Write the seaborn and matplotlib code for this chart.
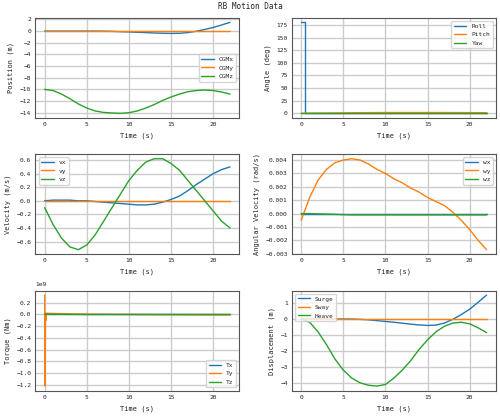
import numpy as np
import pandas as pd
import matplotlib
matplotlib.use("Agg")
import matplotlib.pyplot as plt
import seaborn as sns

sns.set_theme(style="whitegrid", palette="tab10")
plt.rcParams['font.family'] = ['DejaVu Sans Mono']
plt.rcParams.update({'font.size': 5, 'axes.labelsize': 5, 'xtick.labelsize': 4.5, 'ytick.labelsize': 4.5,
                     'legend.fontsize': 4.5, 'axes.edgecolor': '#555555', 'grid.color': '#cccccc',
                     'axes.linewidth': 0.8})

t = list(range(23))
cgx = [0, 0, 0, 0, 0, 0, 0, -0.02, -0.05, -0.1, -0.15, -0.2, -0.26, -0.32, -0.37, -0.4, -0.38, -0.25, -0.02, 0.28, 0.62, 1.05, 1.5]
cgy = [0.0] * 23
cgz = [-10, -10.2, -10.8, -11.6, -12.5, -13.2, -13.7, -13.95, -14.05, -14.1, -14.0, -13.7, -13.2, -12.6, -11.9, -11.3, -10.8, -10.4, -10.2, -10.1, -10.2, -10.45, -10.8]
heave = [0, -0.2, -0.8, -1.6, -2.5, -3.2, -3.7, -4.0, -4.15, -4.2, -4.1, -3.7, -3.2, -2.6, -1.9, -1.3, -0.8, -0.45, -0.25, -0.2, -0.3, -0.55, -0.85]
roll_t = [0, 0.5, 0.5, 22]
roll = [180, 180, 0, 0]
pitch = [0, 0.1, 0.2, 0.4, 0.6, 0.8, 1.0, 1.2, 1.3, 1.4, 1.5, 1.5, 1.5, 1.5, 1.5, 1.5, 1.5, 1.5, 1.4, 1.4, 1.3, 1.3, 1.2]
yaw = [0.0] * 23
vx = [0, 0.01, 0.01, 0.01, 0, 0, -0.01, -0.02, -0.03, -0.04, -0.05, -0.06, -0.06, -0.05, -0.02, 0.02, 0.07, 0.15, 0.24, 0.32, 0.4, 0.46, 0.5]
vy = [0.0] * 23
vz = [-0.1, -0.35, -0.55, -0.68, -0.72, -0.65, -0.5, -0.3, -0.1, 0.1, 0.3, 0.45, 0.57, 0.62, 0.62, 0.55, 0.45, 0.3, 0.15, 0.0, -0.15, -0.3, -0.4]
wx = [0.0] * 23
wy = [-0.0005, 0.0012, 0.0025, 0.0033, 0.0038, 0.004, 0.0041, 0.004, 0.0037, 0.0033, 0.003, 0.0026, 0.0023, 0.0019, 0.0016, 0.0012, 0.0009, 0.0006, 0.0001, -0.0005, -0.0012, -0.002, -0.0027]
wz = [0, 0, -0.00002, -0.00004, -0.00006, -0.00008, -0.0001, -0.0001, -0.0001, -0.0001, -0.0001, -0.0001, -0.0001, -0.0001, -0.0001, -0.0001, -0.0001, -0.0001, -0.0001, -0.0001, -0.0001, -0.0001, -0.0001]
tq_t = [0, 0.05, 0.1, 0.15, 0.2, 5, 22]
tx = [0, 0, 0, 0, 0, 0, 0]
ty = [0.33e9, -1.22e9, 0.02e9, -0.1e9, 0.02e9, 0.005e9, -0.01e9]
tz = [0, 0.01e9, 0, 0, 0.005e9, 0, 0]

fig, axes = plt.subplots(3, 2, figsize=(5.0, 4.16), dpi=100)
fig.suptitle("RB Motion Data", fontsize=5.5, y=0.995)

def draw(ax, xs, series, labels, ylabel, loc):
    for x, s, l in zip(xs, series, labels):
        sns.lineplot(x=x, y=s, ax=ax, label=l, linewidth=1, estimator=None, sort=False)
    ax.set_xlabel("Time (s)")
    ax.set_ylabel(ylabel)
    ax.legend(loc=loc)
    ax.tick_params(length=2, pad=1)
    ax.set_xticks([0, 5, 10, 15, 20])

draw(axes[0, 0], [t] * 3, [cgx, cgy, cgz], ["CGMx", "CGMy", "CGMz"], "Position (m)", "center right")
axes[0, 0].set_yticks(range(-14, 3, 2))
draw(axes[0, 1], [roll_t, t, t], [roll, pitch, yaw], ["Roll", "Pitch", "Yaw"], "Angle (deg)", "upper right")
axes[0, 1].set_yticks(range(0, 176, 25))
draw(axes[1, 0], [t] * 3, [vx, vy, vz], ["vx", "vy", "vz"], "Velocity (m/s)", "upper left")
axes[1, 0].set_yticks(np.arange(-0.6, 0.7, 0.2))
draw(axes[1, 1], [t] * 3, [wx, wy, wz], ["wx", "wy", "wz"], "Angular Velocity (rad/s)", "upper right")
axes[1, 1].set_yticks(np.arange(-0.003, 0.0041, 0.001))
draw(axes[2, 0], [tq_t] * 3, [tx, ty, tz], ["Tx", "Ty", "Tz"], "Torque (Nm)", "lower right")
axes[2, 0].set_yticks(np.arange(-1.2e9, 0.3e9, 0.2e9))
axes[2, 0].yaxis.get_offset_text().set_fontsize(4.5)
draw(axes[2, 1], [t] * 3, [cgx, cgy, heave], ["Surge", "Sway", "Heave"], "Displacement (m)", "upper left")

fig.tight_layout(pad=0.6, h_pad=1.0, w_pad=2.0)
fig.savefig("out.png", dpi=100)
